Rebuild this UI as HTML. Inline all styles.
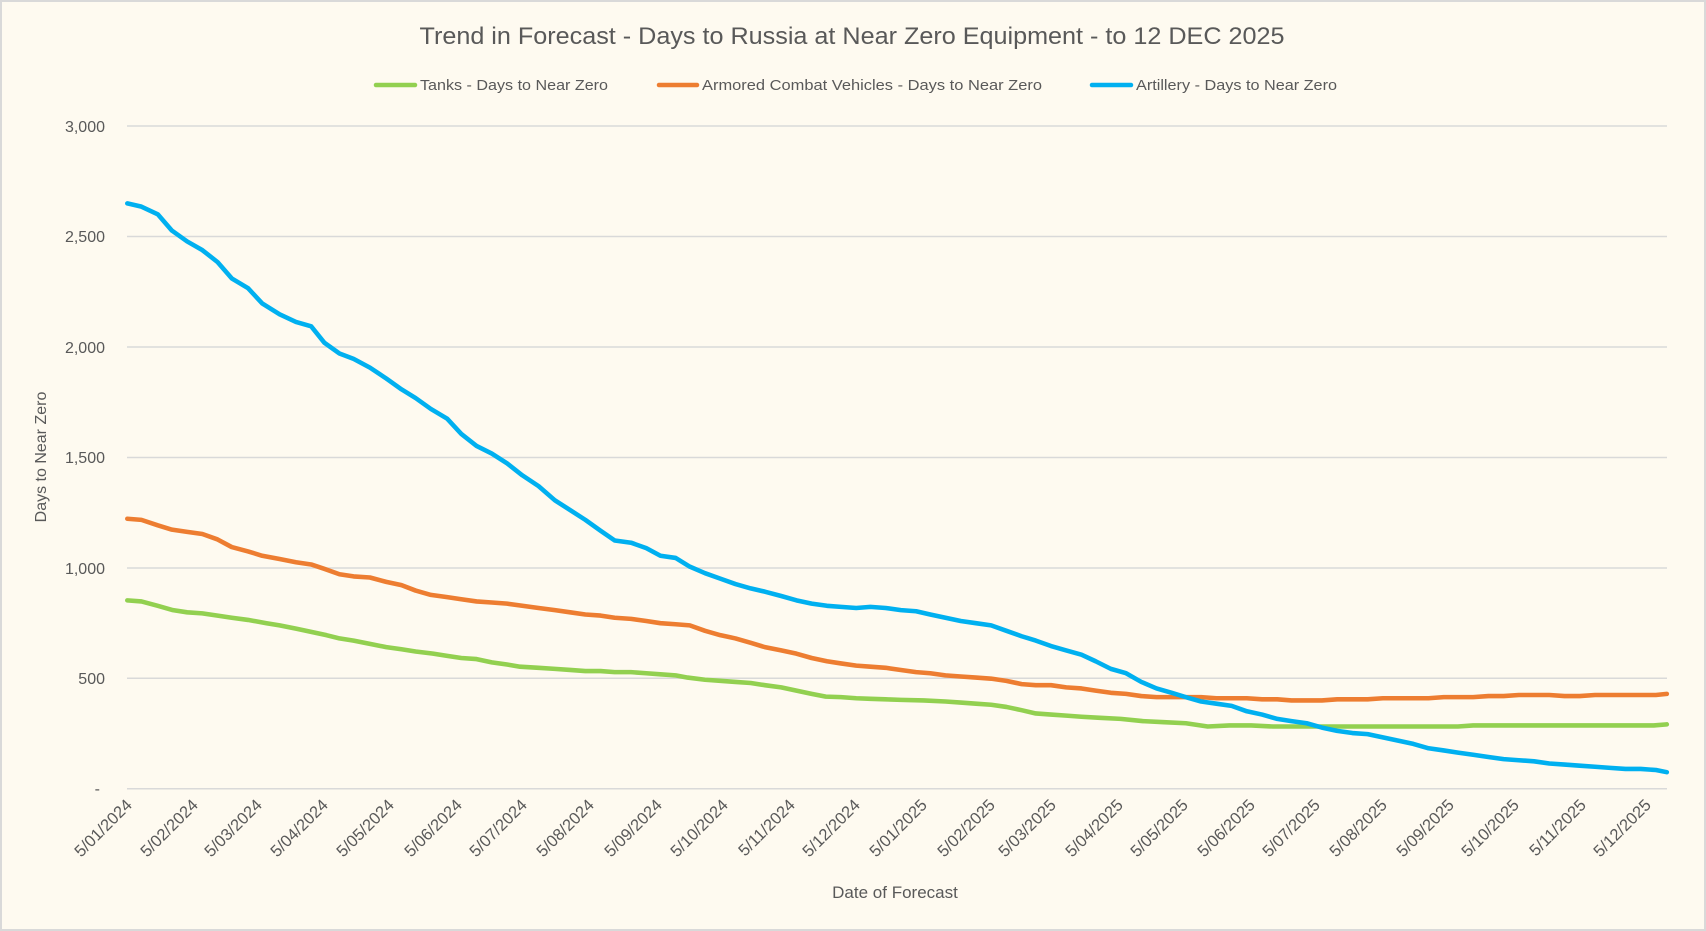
<!DOCTYPE html>
<html><head><meta charset="utf-8"><style>
html,body{margin:0;padding:0;background:#fefaf0;}
svg{display:block;font-family:"Liberation Sans",sans-serif;}
</style></head><body>
<svg width="1706" height="931" viewBox="0 0 1706 931" xmlns="http://www.w3.org/2000/svg">
<rect x="1" y="1" width="1704" height="929" fill="#fefaf0" stroke="#d9d9d9" stroke-width="2"/>
<text x="852" y="44" text-anchor="middle" font-size="24" fill="#595959" textLength="865" lengthAdjust="spacingAndGlyphs">Trend in Forecast - Days to Russia at Near Zero Equipment - to 12 DEC 2025</text>
<g font-size="15" fill="#595959">
<line x1="376" y1="85" x2="415" y2="85" stroke="#92d050" stroke-width="4.5" stroke-linecap="round"/>
<text x="420" y="90" textLength="188" lengthAdjust="spacingAndGlyphs">Tanks - Days to Near Zero</text>
<line x1="659" y1="85" x2="697" y2="85" stroke="#ed7d31" stroke-width="4.5" stroke-linecap="round"/>
<text x="702" y="90" textLength="340" lengthAdjust="spacingAndGlyphs">Armored Combat Vehicles - Days to Near Zero</text>
<line x1="1092" y1="85" x2="1131" y2="85" stroke="#00b0f0" stroke-width="4.5" stroke-linecap="round"/>
<text x="1136" y="90" textLength="201" lengthAdjust="spacingAndGlyphs">Artillery - Days to Near Zero</text>
</g>
<g stroke="#d9d9d9" stroke-width="1.5">
<line x1="127" y1="126" x2="1667" y2="126"/>
<line x1="127" y1="236.5" x2="1667" y2="236.5"/>
<line x1="127" y1="347" x2="1667" y2="347"/>
<line x1="127" y1="457.5" x2="1667" y2="457.5"/>
<line x1="127" y1="568" x2="1667" y2="568"/>
<line x1="127" y1="678.3" x2="1667" y2="678.3"/>
<line x1="127" y1="788.7" x2="1667" y2="788.7"/>
</g>
<g font-size="16" fill="#595959" text-anchor="end">
<text x="105" y="132">3,000</text>
<text x="105" y="242">2,500</text>
<text x="105" y="353">2,000</text>
<text x="105" y="463">1,500</text>
<text x="105" y="574">1,000</text>
<text x="105" y="684">500</text>
<text x="100" y="794">-</text>
</g>
<text transform="translate(46,457) rotate(-90)" text-anchor="middle" font-size="16" fill="#595959">Days to Near Zero</text>
<text x="895" y="898" text-anchor="middle" font-size="17" fill="#595959">Date of Forecast</text>
<g font-size="16.5" fill="#595959" text-anchor="end">
<text transform="translate(133,806) rotate(-45)">5/01/2024</text>
<text transform="translate(199,806) rotate(-45)">5/02/2024</text>
<text transform="translate(263,806) rotate(-45)">5/03/2024</text>
<text transform="translate(329,806) rotate(-45)">5/04/2024</text>
<text transform="translate(395,806) rotate(-45)">5/05/2024</text>
<text transform="translate(463,806) rotate(-45)">5/06/2024</text>
<text transform="translate(528,806) rotate(-45)">5/07/2024</text>
<text transform="translate(595,806) rotate(-45)">5/08/2024</text>
<text transform="translate(663,806) rotate(-45)">5/09/2024</text>
<text transform="translate(729,806) rotate(-45)">5/10/2024</text>
<text transform="translate(796,806) rotate(-45)">5/11/2024</text>
<text transform="translate(861,806) rotate(-45)">5/12/2024</text>
<text transform="translate(928,806) rotate(-45)">5/01/2025</text>
<text transform="translate(996,806) rotate(-45)">5/02/2025</text>
<text transform="translate(1057,806) rotate(-45)">5/03/2025</text>
<text transform="translate(1124,806) rotate(-45)">5/04/2025</text>
<text transform="translate(1189,806) rotate(-45)">5/05/2025</text>
<text transform="translate(1256,806) rotate(-45)">5/06/2025</text>
<text transform="translate(1321,806) rotate(-45)">5/07/2025</text>
<text transform="translate(1388,806) rotate(-45)">5/08/2025</text>
<text transform="translate(1455,806) rotate(-45)">5/09/2025</text>
<text transform="translate(1520,806) rotate(-45)">5/10/2025</text>
<text transform="translate(1587,806) rotate(-45)">5/11/2025</text>
<text transform="translate(1652,806) rotate(-45)">5/12/2025</text>
</g>
<g transform="scale(1.088,1.0876)" fill="none" stroke-width="4.2" stroke-linejoin="round" stroke-linecap="round">
<polyline stroke="#92d050" points="117,552 130,553 145,557 159,561 172,563 186,564 200,566 213,568 228,570 245,573 257,575 272,578 286,581 300,584 312,587 325,589 340,592 355,595 369,597 382,599 398,601 411,603 424,605 438,606 452,609 466,611 478,613 495,614 510,615 524,616 538,617 552,617 565,618 580,618 594,619 607,620 621,621 632,623 648,625 662,626 676,627 690,628 703,630 718,632 732,635 746,638 759,640.5 773,641 787,642 800,642.5 814,643 828,643.5 849,644 869,645 883,646 897,647 911,648 925,650 939,653 952,656 966,657 980,658 994,659 1011,660 1030,661 1050,663 1070,664 1090,665 1110,668 1130,667 1150,667 1170,668 1190,668 1224,668 1260,668 1300,668 1340,668 1354,667 1400,667 1450,667 1500,667 1520,667 1532,666"/>
<polyline stroke="#ed7d31" points="117,477 130,478 145,483 158,487 172,489 186,491 200,496 213,503 228,507 241,511 257,514 272,517 286,519 298,523 312,528 325,530 340,531 355,535 369,538 382,543 396,547 411,549 424,551 438,553 452,554 466,555 480,557 495,559 510,561 524,563 538,565 552,566 565,568 580,569 594,571 607,573 621,574 634,575 648,580 662,584 676,587 690,591 703,595 718,598 732,601 746,605 760,608 773,610 787,612 800,613 814,614 828,616 842,618 855,619 869,621 883,622 897,623 911,624 925,626 939,629 952,630 966,630 980,632 994,633 1007,635 1021,637 1035,638 1049,640 1063,641 1077,641 1090,641 1104,641 1118,642 1132,642 1146,642 1160,643 1174,643 1187,644 1201,644 1215,644 1229,643 1243,643 1257,643 1271,642 1285,642 1299,642 1313,642 1327,641 1340,641 1354,641 1368,640 1382,640 1396,639 1410,639 1424,639 1438,640 1452,640 1466,639 1480,639 1494,639 1508,639 1522,639 1532,638"/>
<polyline stroke="#00b0f0" points="117,187 130,190 145,197 158,212 172,222 186,230 200,241 213,256 228,265 241,279 257,289 272,296 286,300 298,315 312,325 325,330 340,338 355,348 369,358 382,366 396,376 411,385 424,399 438,410 452,417 466,426 480,437 495,447 510,460 524,469 538,478 552,488 565,497 580,499 594,504 607,511 621,513 634,521 648,527 662,532 676,537 690,541 703,544 718,548 732,552 746,555 760,557 773,558 787,559 800,558 814,559 828,561 842,562 855,565 869,568 883,571 897,573 911,575 925,580 939,585 952,589 966,594 980,598 994,602 1007,608 1021,615 1035,619 1049,627 1063,633 1077,637 1090,641 1104,645 1118,647 1132,649 1146,654 1160,657 1174,661 1187,663 1201,665 1215,669 1229,672 1243,674 1257,675 1271,678 1285,681 1299,684 1313,688 1327,690 1340,692 1354,694 1368,696 1382,698 1396,699 1410,700 1424,702 1438,703 1452,704 1466,705 1480,706 1494,707 1508,707 1522,708 1532,710"/>
</g>
</svg>
</body></html>
